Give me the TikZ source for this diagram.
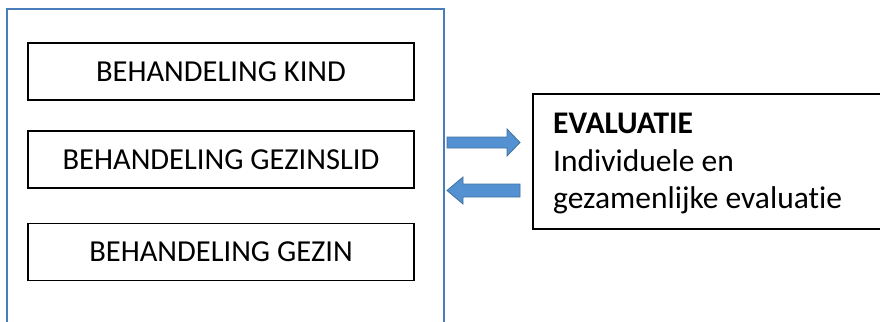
\documentclass[tikz,border=0pt]{standalone}
\usepackage{fontspec}
\setmainfont[Ligatures=NoCommon,RawFeature=-liga]{Carlito}
\definecolor{outerblue}{HTML}{4A7EBB}
\definecolor{arrowfill}{HTML}{5491D3}
\definecolor{arrowline}{HTML}{41719C}
\begin{document}
\begin{tikzpicture}[x=1pt,y=-1pt,
  treat/.style={draw=black,line width=1.4pt,minimum width=386pt,minimum height=57pt,inner sep=0pt,
    font=\fontsize{30.5}{34}\selectfont},
  evaltext/.style={anchor=base west,inner sep=0pt,font=\fontsize{31.5}{36}\selectfont},
  blockarrow/.style={fill=arrowfill,draw=arrowline,line width=0.8pt,line join=miter}]
\useasboundingbox (0,0) rectangle (880,321);
\draw[outerblue,line width=1.3pt] (7,330) -- (7,9) -- (444,9) -- (444,330);
\node[treat] (kind) at (221,71.5) {BEHANDELING KIND};
\node[treat] (lid) at (221,159.5) {BEHANDELING GEZINSLID};
\node[treat] (gezin) at (221,252) {BEHANDELING GEZIN};
\draw[black,line width=1.4pt] (890,94) -- (533,94) -- (533,229) -- (890,229);
\node[evaltext] (eval1) at (553,133) {\textbf{EVALUATIE}};
\node[evaltext] (eval2) at (553,171) {Individuele en};
\node[evaltext] (eval3) at (553,208) {gezamenlijke evaluatie};
\draw[blockarrow] (447,137) -- (507,137) -- (507,129) -- (520,142.5) -- (507,156) -- (507,148) -- (447,148) -- cycle;
\draw[blockarrow] (520,184) -- (463,184) -- (463,177) -- (447,190.5) -- (463,204) -- (463,197) -- (520,197) -- cycle;
\end{tikzpicture}
\end{document}
